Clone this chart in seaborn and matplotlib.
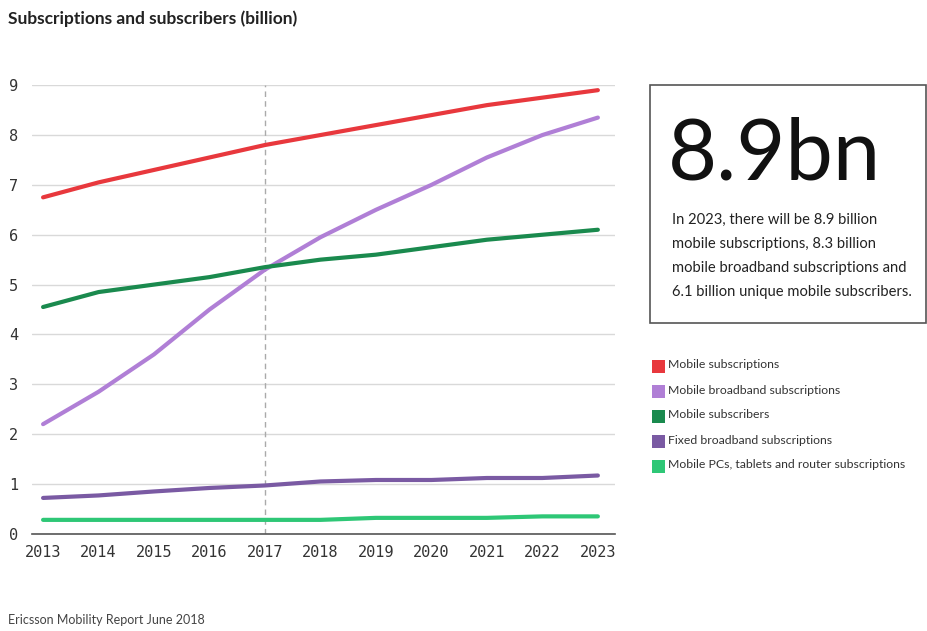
import matplotlib
matplotlib.use("Agg")
import matplotlib.pyplot as plt
from matplotlib.patches import Rectangle
import seaborn as sns
import pandas as pd

years = [2013, 2014, 2015, 2016, 2017, 2018, 2019, 2020, 2021, 2022, 2023]
mobile_subscriptions = [6.75, 7.05, 7.3, 7.55, 7.8, 8.0, 8.2, 8.4, 8.6, 8.75, 8.9]
mobile_broadband = [2.2, 2.85, 3.6, 4.5, 5.3, 5.95, 6.5, 7.0, 7.55, 8.0, 8.35]
mobile_subscribers = [4.55, 4.85, 5.0, 5.15, 5.35, 5.5, 5.6, 5.75, 5.9, 6.0, 6.1]
fixed_broadband = [0.72, 0.77, 0.85, 0.92, 0.97, 1.05, 1.08, 1.08, 1.12, 1.12, 1.17]
mobile_pcs = [0.28, 0.28, 0.28, 0.28, 0.28, 0.28, 0.32, 0.32, 0.32, 0.35, 0.35]

series_names = ["Mobile subscriptions", "Mobile broadband subscriptions",
                "Mobile subscribers", "Fixed broadband subscriptions",
                "Mobile PCs, tablets and router subscriptions"]
series_values = [mobile_subscriptions, mobile_broadband, mobile_subscribers,
                 fixed_broadband, mobile_pcs]
colors = ["#e8383d", "#b07fd6", "#1a8a4e", "#7a5aa3", "#2ec776"]

rows = []
for name, vals in zip(series_names, series_values):
    for y, v in zip(years, vals):
        rows.append({"year": y, "value": v, "series": name})
df = pd.DataFrame(rows)

sns.set_theme(style="white")
plt.rcParams['font.family'] = ['Lato', 'DejaVu Sans']

fig = plt.figure(figsize=(9.27, 6.31), dpi=100)
ax = fig.add_axes([0.0345, 0.154, 0.629, 0.711])

ax.axvline(2017, color="#aaaaaa", lw=1, ls=(0, (4, 3)), zorder=1)
sns.lineplot(data=df, x="year", y="value", hue="series", hue_order=series_names,
             palette=colors, lw=3.0, legend=False, ax=ax, zorder=3)

ax.set_xlim(2012.8, 2023.31)
ax.set_ylim(0, 9)
ax.set_yticks(range(0, 10))
ax.set_xticks(years)
ax.grid(axis="y", color="#d9d9d9", lw=1)
ax.set_axisbelow(True)
for s in ["top", "right", "left"]:
    ax.spines[s].set_visible(False)
ax.spines["bottom"].set_color("#555555")
ax.spines["bottom"].set_linewidth(1.2)
ax.set_xlabel("")
ax.set_ylabel("")
ax.tick_params(axis="both", length=0, labelsize=11, colors="#333333")
ax.tick_params(axis="y", pad=10)
ax.tick_params(axis="x", pad=8)
for lab in ax.get_xticklabels() + ax.get_yticklabels():
    lab.set_family("DejaVu Sans Mono")

fig.text(0.009, 0.971, "Subscriptions and subscribers (billion)", fontsize=12.5,
         fontweight="bold", color="#222222", va="center", ha="left")
fig.text(0.009, 0.017, "Ericsson Mobility Report June 2018", fontsize=9,
         color="#444444", va="center", ha="left")

# info box
box = Rectangle((650 / 927, 1 - 323 / 631), (926 - 650) / 927, (323 - 85) / 631,
                transform=fig.transFigure, fill=False, edgecolor="#555555", lw=1.2)
fig.add_artist(box)
fig.text(668 / 927, 1 - 155 / 631, "8.9bn", fontsize=61, fontweight="normal",
         color="#111111", va="center", ha="left")
fig.text(672 / 927, 1 - 213 / 631,
         "In 2023, there will be 8.9 billion\nmobile subscriptions, 8.3 billion\n"
         "mobile broadband subscriptions and\n6.1 billion unique mobile subscribers.",
         fontsize=10.6, color="#222222", va="top", ha="left", linespacing=1.9)

# legend
for i, (n, c) in enumerate(zip(series_names, colors)):
    yc = 366 + 25 * i
    fig.add_artist(Rectangle((652 / 927, 1 - (yc + 6.5) / 631), 13 / 927, 13 / 631,
                             transform=fig.transFigure, facecolor=c, edgecolor="none"))
    fig.text(668 / 927, 1 - (yc - 1) / 631, n, fontsize=8.8, color="#333333",
             va="center", ha="left")

fig.savefig("out.png", dpi=100)
